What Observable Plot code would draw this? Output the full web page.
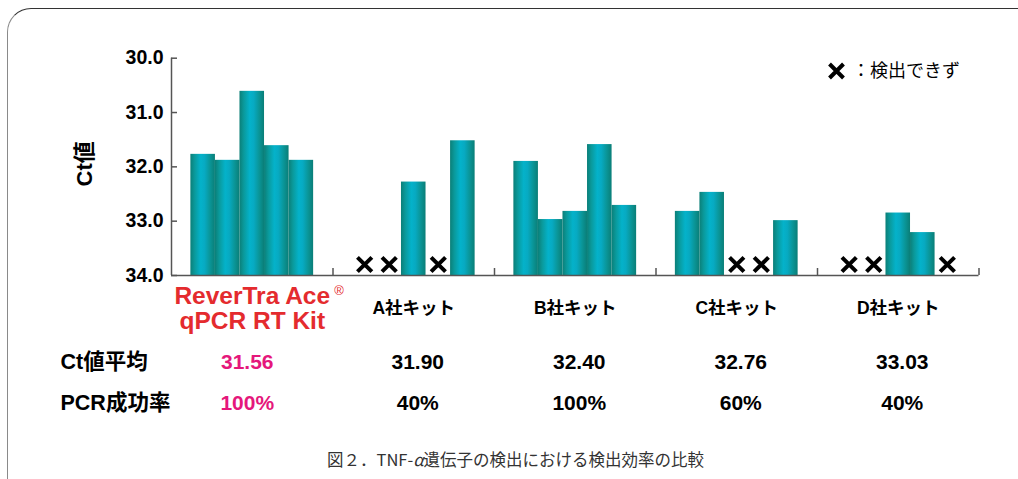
<!DOCTYPE html>
<html><head><meta charset="utf-8">
<script src="https://cdn.jsdelivr.net/npm/d3@7"></script>
<script src="https://cdn.jsdelivr.net/npm/@observablehq/plot@0.6"></script>
<style>
body{margin:0;background:#fff;overflow:hidden;}
#wrap{position:relative;width:1018px;height:479px;overflow:hidden;font-family:'Liberation Sans',Arial,'Noto Sans CJK JP',sans-serif;}
#frame{position:absolute;left:7px;top:8px;width:1040px;height:500px;border:1.5px solid #333;border-left-color:#8a8a8a;border-radius:24px;box-sizing:border-box;}
#chart{position:absolute;left:0;top:0;}
#caption{position:absolute;left:0;width:1031px;top:449px;line-height:20px;text-align:center;font-size:16.5px;color:#333;font-family:'Noto Sans CJK JP',sans-serif;}
</style>
</head><body>
<div id="wrap"><div id="frame"></div><div id="chart"></div>
<div id="caption">図２．TNF-<i>α</i>遺伝子の検出における検出効率の比較</div></div>
<script>
const groups = ["ReverTra Ace qPCR RT Kit", "A社キット", "B社キット", "C社キット", "D社キット"];
const categoryLabels = ["ReverTra Ace\nqPCR RT Kit", "A社キット", "B社キット", "C社キット", "D社キット"];
// Ct values per kit, 5 samples each; null = not detected (×)
const ctReverTra = [31.77, 31.88, 30.61, 31.61, 31.88];
const ctA = [null, null, 32.28, null, 31.52];
const ctB = [31.90, 32.97, 32.82, 31.59, 32.71];
const ctC = [32.82, 32.47, null, null, 32.99];
const ctD = [null, null, 32.85, 33.21, null];
const ctMeans = ["31.56", "31.90", "32.40", "32.76", "33.03"];
const successRates = ["100%", "40%", "100%", "60%", "40%"];
const yTicks = [30, 31, 32, 33, 34];
const rowLabels = ["Ct値平均", "PCR成功率"];
const legendText = "：検出できず";

const ctValues = [ctReverTra, ctA, ctB, ctC, ctD];
const W = 1018, H = 440, mL = 171, mR = 39.5, mT = 57.7, mB = H - 275;
const groupPx = (W - mL - mR) / 5;
const bw = 24.55 / groupPx; // bar width in group units
const bars = ctValues.flatMap((vals, gi) => vals.map((v, j) => ({gi, j, v})));
const detected = bars.filter(d => d.v != null);
const missed = bars.filter(d => d.v == null);
const xL = d => d.gi + 0.5 + (d.j - 2.5) * bw;
const pxY = 54.3;

const tbl = groups.map((g, i) => ({i, g, label: categoryLabels[i], mean: ctMeans[i], rate: successRates[i]}));
const hi = tbl.filter(d => d.i === 0), rest = tbl.filter(d => d.i > 0);
const red = "#e42b2e", pink = "#e5177b";
const jp = "'Noto Sans CJK JP', sans-serif";

const chart = Plot.plot({
  width: W, height: H,
  marginLeft: mL, marginRight: mR, marginTop: mT, marginBottom: mB,
  style: {fontFamily: "'Liberation Sans', Arial, 'Noto Sans CJK JP', sans-serif", background: "transparent", color: "#000"},
  x: {domain: [0, 5], axis: null},
  y: {domain: [30, 34], reverse: true, axis: null},
  marks: [
    Plot.rect(detected, {x1: xL, x2: d => xL(d) + bw, y1: 34, y2: "v", fill: "url(#barGrad)"}),
    Plot.dot(missed, {x: d => xL(d) + bw / 2, y: 34, dy: -11, symbol: "times", r: 6.6, stroke: "#000", strokeWidth: 4}),
    Plot.ruleX([0], {y1: 30, y2: 34, stroke: "#555", strokeWidth: 1.5}),
    Plot.ruleY([34], {x1: 0, x2: 5, stroke: "#555", strokeWidth: 1.5}),
    Plot.ruleY(yTicks, {x1: 0, x2: 6 / groupPx, stroke: "#555", strokeWidth: 1.5}),
    Plot.ruleX([1, 2, 3, 4, 5], {y1: 34, y2: 34 - 7 / pxY, stroke: "#555", strokeWidth: 1.5}),
    Plot.axisY({ticks: yTicks, tickFormat: d => d.toFixed(1), tickSize: 0, tickPadding: 8, fontSize: 19.5, fontWeight: "bold", label: null}),
    Plot.text(["Ct値"], {frameAnchor: "left", dx: -87, dy: -3, rotate: -90, textAnchor: "middle", lineAnchor: "middle", fontSize: 22, fontWeight: "bold"}),
    // category labels
    Plot.text(hi, {x: d => d.i + 0.5, y: 34, dy: 33, text: "label", fontSize: 24.5, lineHeight: 1.03, fontWeight: "bold", fill: red}),
    Plot.text(hi, {x: d => d.i + 0.5, y: 34, dy: 15, dx: 82, text: () => "®", textAnchor: "start", fontSize: 13, fill: red}),
    Plot.text(rest, {x: d => d.i + 0.5, y: 34, dy: 33, text: "label", fontSize: 17.5, fontWeight: "bold"}),
    // rows
    Plot.text([rowLabels[0]], {frameAnchor: "bottom-left", dx: -111, dy: 87, textAnchor: "start", lineAnchor: "middle", fontSize: 21.5, fontWeight: "bold"}),
    Plot.text([rowLabels[1]], {frameAnchor: "bottom-left", dx: -111, dy: 128, textAnchor: "start", lineAnchor: "middle", fontSize: 21.5, fontWeight: "bold"}),
    Plot.text(hi, {x: d => d.i + 0.5, y: 34, dy: 87, dx: -5, text: "mean", fontSize: 21, fontWeight: "bold", fill: pink}),
    Plot.text(hi, {x: d => d.i + 0.5, y: 34, dy: 128, dx: -5, text: "rate", fontSize: 21, fontWeight: "bold", fill: pink}),
    Plot.text(rest, {x: d => d.i + 0.5, y: 34, dy: 87, dx: 4, text: "mean", fontSize: 21, fontWeight: "bold"}),
    Plot.text(rest, {x: d => d.i + 0.5, y: 34, dy: 128, dx: 4, text: "rate", fontSize: 21, fontWeight: "bold"}),
    // legend
    Plot.dot([0], {frameAnchor: "top-right", dx: -142.5, dy: 12.8, symbol: "times", r: 6.4, stroke: "#000", strokeWidth: 4}),
    Plot.text([legendText], {frameAnchor: "top-right", dx: -127, dy: 12.8, textAnchor: "start", lineAnchor: "middle", fontSize: 18, fontFamily: jp})
  ]
});

const defs = d3.select(chart).insert("defs", ":first-child");
const grad = defs.append("linearGradient").attr("id", "barGrad").attr("x1", 0).attr("x2", 1).attr("y1", 0).attr("y2", 0);
[[0, "#0b7f78"], [0.18, "#0a9a9c"], [0.42, "#04b2ca"], [0.58, "#07aac2"], [0.8, "#0a9597"], [1, "#0a7e77"]]
  .forEach(([o, c]) => grad.append("stop").attr("offset", o).attr("stop-color", c));
document.getElementById("chart").appendChild(chart);
</script>
</body></html>
